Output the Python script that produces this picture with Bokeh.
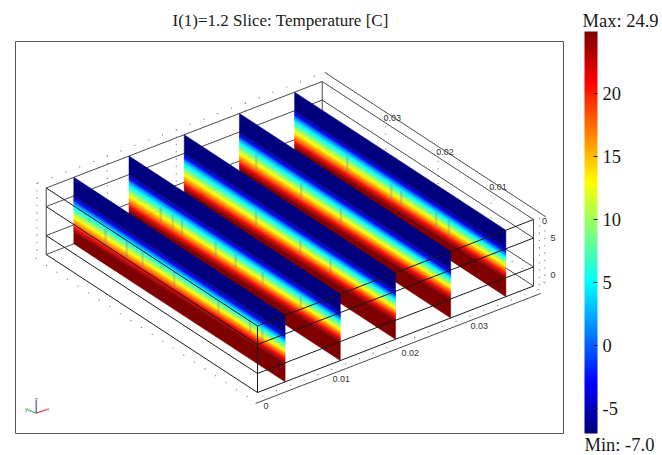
from bokeh.plotting import figure
from bokeh.models import (Range1d, ColumnDataSource, ColorBar, LinearColorMapper, FixedTicker)
from bokeh.core.properties import value
from bokeh.embed import file_html
from bokeh.resources import INLINE
import numpy as np

TITLE = "I(1)=1.2 Slice: Temperature [C]"
T_MIN, T_MAX = -7.0, 24.9
CB_TICKS = [-5, 0, 5, 10, 15, 20]

# model geometry (metres)
X_MAX, Y_MAX, Z_MAX = 0.04, 0.04, 0.009
SLICE_X = [0.036, 0.028, 0.020, 0.012, 0.004]      # drawn back to front
Z_LEVELS = [0.0, 0.00257, 0.00649, 0.009]
X_TICKS = [0, 0.01, 0.02, 0.03]
Y_TICKS = [0, 0.01, 0.02, 0.03]
Z_TICKS = [0, 0.005]

# temperature bands of a slice: colour level, and where its lower limit falls
# (fraction of the slice height from the top) at the y=0 end and at the y=max end
BAND_T    = [-7.0, -6.0, -5.0, -4.0, -3.0, -2.0, -1.0, 0.0, 1.0, 2.0, 3.0, 4.0, 5.0, 6.0, 7.0, 8.0, 9.0, 10.0, 11.0, 12.0, 13.0, 14.0, 15.0, 16.0, 17.0, 18.0, 19.0, 20.0, 21.0, 22.0, 23.0, 24.0, 24.9]
BAND_NEAR = [0.26, 0.285, 0.305, 0.32, 0.33, 0.34, 0.35, 0.36, 0.372, 0.385, 0.398, 0.41, 0.425, 0.44, 0.455, 0.47, 0.485, 0.50, 0.515, 0.53, 0.545, 0.56, 0.575, 0.59, 0.605, 0.62, 0.635, 0.65, 0.665, 0.68, 0.70, 0.72, 1.0]
BAND_FAR  = [0.28, 0.305, 0.325, 0.34, 0.35, 0.36, 0.37, 0.38, 0.395, 0.41, 0.43, 0.445, 0.465, 0.485, 0.505, 0.52, 0.54, 0.56, 0.58, 0.60, 0.62, 0.64, 0.66, 0.68, 0.70, 0.72, 0.735, 0.75, 0.765, 0.78, 0.80, 0.82, 1.0]

# small streaks in the coloured band: y position on each slice
STREAKS = {
    0.004: [0.034, 0.030, 0.027, 0.021, 0.0126, 0.0066, 0.0043],
    0.012: [0.034, 0.0317, 0.030, 0.0236, 0.0198, 0.0147, 0.0075],
    0.020: [0.0264, 0.018, 0.0123],
    0.028: [0.0368, 0.0283, 0.0208],
    0.036: [0.030, 0.0217, 0.0198, 0.0132, 0.0108],
}


def proj(x, y, z):
    x, y, z = np.asarray(x, float), np.asarray(y, float), np.asarray(z, float)
    return 257 + 6900 * x - 5282 * y, 392 - 2662 * x - 3450 * y - 7390 * z


def jet(n=256):
    v = np.linspace(0, 1, n)
    r = np.clip(np.minimum(4 * v - 1.5, -4 * v + 4.5), 0, 1)
    g = np.clip(np.minimum(4 * v - 0.5, -4 * v + 3.5), 0, 1)
    b = np.clip(np.minimum(4 * v + 0.5, -4 * v + 2.5), 0, 1)
    return ["#%02x%02x%02x" % (int(a * 255), int(c * 255), int(d * 255)) for a, c, d in zip(r, g, b)]


mapper = LinearColorMapper(palette=jet(), low=T_MIN, high=T_MAX)

p = figure(width=662, height=455, output_backend="svg", toolbar_location=None,
           x_range=Range1d(0, 662), y_range=Range1d(455, 0),
           x_axis_type=None, y_axis_type=None,
           min_border=0)
p.grid.visible = False
p.outline_line_color = None

# plot frame
p.quad(left=[15], right=[563], top=[41], bottom=[433], fill_color=None, line_color="#555555", line_width=1)

# title
p.text([172], [20], text=[TITLE], text_font=value("Liberation Serif"), text_font_size="17px",
       text_color="#1a1a1a", text_align="left", text_baseline="middle")


def edges(pts, color, width):
    xs, ys = [], []
    for a, b in pts:
        sx, sy = proj(*zip(a, b))
        xs.append(list(sx))
        ys.append(list(sy))
    p.multi_line(xs, ys, line_color=color, line_width=width)


def dots(x, y, z):
    sx, sy = proj(x, y, z)
    p.scatter(sx, sy, marker="square", size=1.1, fill_color="#777777", line_color=None)


# back of the box
back = []
for z in Z_LEVELS:
    back.append(((0, Y_MAX, z), (X_MAX, Y_MAX, z)))
    back.append(((X_MAX, 0, z), (X_MAX, Y_MAX, z)))
for c in [(0, Y_MAX), (X_MAX, Y_MAX), (X_MAX, 0)]:
    back.append(((c[0], c[1], 0), (c[0], c[1], Z_MAX)))
edges(back, "#4a4a4a", 1)

# axis lines standing off the box
edges([((-0.0017, -0.00186, 0), (0.0396, -0.00186, 0)),
       ((0.0415, -0.0003, Z_MAX), (0.0415, 0.0415, Z_MAX))], "#4a4a4a", 1)

# tick dots
zs = np.arange(0, Z_MAX + 1e-9, 0.001)
for t in X_TICKS[1:]:
    dots(np.full_like(zs, t), np.full_like(zs, 0.0415), zs)
for t in Y_TICKS[1:]:
    dots(np.full_like(zs, 0.0415), np.full_like(zs, t), zs)
dots(np.full_like(zs, 0.0415), np.full_like(zs, -0.0002), zs)
dots(np.full_like(zs, 0.0407), np.full_like(zs, -0.0002), zs)
dots(np.full_like(zs, -0.0002), np.full_like(zs, 0.0415), zs)
xr = np.arange(0, X_MAX + 1e-9, 0.002)
yr = np.arange(0, Y_MAX + 1e-9, 0.002)
dots(xr, np.full_like(xr, -0.001), np.zeros_like(xr))
dots(xr, np.full_like(xr, 0.0415), np.full_like(xr, Z_MAX))
dots(np.full_like(yr, -0.0015), yr, np.zeros_like(yr))
dots(np.full_like(yr, 0.0415), yr, np.zeros_like(yr))

# slices, back to front
for sx0 in SLICE_X:
    xs, ys, ts = [], [], []
    prev_n, prev_f = 0.0, 0.0
    for t, fn, ff in zip(BAND_T, BAND_NEAR, BAND_FAR):
        qx, qy = proj([sx0] * 4, [0, Y_MAX, Y_MAX, 0],
                      [Z_MAX * (1 - prev_n), Z_MAX * (1 - prev_f), Z_MAX * (1 - ff), Z_MAX * (1 - fn)])
        xs.append(list(qx))
        ys.append(list(qy))
        ts.append(t)
        prev_n, prev_f = fn, ff
    src = ColumnDataSource(dict(xs=xs, ys=ys, t=ts))
    transform = dict(field="t", transform=mapper)
    p.patches("xs", "ys", source=src, fill_color=transform, line_color=transform, line_width=0.5)
    sy_ = np.array(STREAKS[sx0])
    frac = sy_ / Y_MAX
    f0 = 0.40 + 0.06 * frac
    f1 = 0.60 + 0.10 * frac
    ax, ay = proj(np.full_like(sy_, sx0), sy_, Z_MAX * (1 - f0))
    bx, by = proj(np.full_like(sy_, sx0), sy_, Z_MAX * (1 - f1))
    p.segment(ax, ay, bx, by, line_color="#7a6a98", line_alpha=0.28, line_width=2.4)

# front of the box
front = []
for z in Z_LEVELS:
    front.append(((0, 0, z), (X_MAX, 0, z)))
    front.append(((0, 0, z), (0, Y_MAX, z)))
front.append(((0, 0, 0), (0, 0, Z_MAX)))
edges(front, "#1a1a1a", 1)

# tick labels
tick_style = dict(text_font=value("Liberation Sans"), text_font_size="9px",
                  text_color="#333333", text_align="left", text_baseline="middle")
lx, ly = proj(X_TICKS, [0] * 4, [0] * 4)
p.text(lx + 6, ly + 13.5, text=[("%g" % t) for t in X_TICKS], **tick_style)
lx, ly = proj([X_MAX] * 4, Y_TICKS, [Z_MAX] * 4)
p.text(lx + 8.5, ly + 1.5, text=[("%g" % t) for t in Y_TICKS], **tick_style)
lx, ly = proj([X_MAX] * 2, [0, 0], Z_TICKS)
p.text(lx + 17, ly - 11, text=["0", "5"], **tick_style)

# orientation triad
TRIAD_DIR = {"x": (10.3, -3.7, "#e03030"), "y": (-8.7, -3.7, "#30c040"), "z": (0, -12.7, "#4a4ad8")}
ox, oy = 35.7, 412.7
for name, (dx, dy, col) in TRIAD_DIR.items():
    p.segment([ox], [oy], [ox + dx], [oy + dy], line_color=col, line_width=1.2)
    p.text([ox + dx * 1.12], [oy + dy * 1.12], text=[name], text_font=value("Liberation Sans"),
           text_font_size="6px", text_color="#666666", text_align="center", text_baseline="middle")

# colour bar
cb = ColorBar(color_mapper=mapper, ticker=FixedTicker(ticks=CB_TICKS), width=13, height=402,
              location=(584, 22), padding=0, margin=0, background_fill_alpha=0, border_line_color=None,
              bar_line_color=None, major_tick_in=4, major_tick_out=0, major_tick_line_color="#222222",
              minor_tick_line_color=None, label_standoff=5,
              major_label_overrides={-5: "-5"},
              major_label_text_font="Liberation Serif", major_label_text_font_size="18.5px",
              major_label_text_color="#1a1a1a")
p.add_layout(cb, "center")

p.text([582, 584], [20, 444], text=["Max: %.1f" % T_MAX, "Min: %.1f" % T_MIN],
       text_font=value("Liberation Serif"), text_font_size="18.5px", text_color="#1a1a1a",
       text_align="left", text_baseline="middle")

open("out.html", "w").write(file_html(p, INLINE))
